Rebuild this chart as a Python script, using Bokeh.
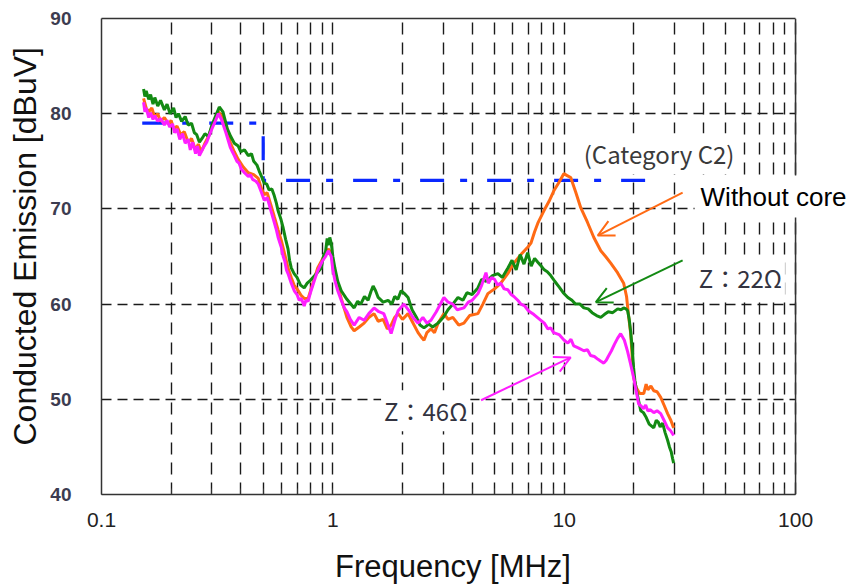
from bokeh.plotting import figure
from bokeh.models import (FixedTicker, CustomJSTickFormatter, Label, Arrow, OpenHead, Span,
                          LogAxis, Title)
from bokeh.embed import file_html
from bokeh.resources import INLINE

# ---------------- data ----------------
freq_nocore = [0.152, 0.156, 0.160, 0.165, 0.170, 0.175, 0.180, 0.187, 0.195, 0.200,
               0.205, 0.212, 0.220, 0.228, 0.237, 0.245, 0.255, 0.262, 0.270, 0.280,
               0.290, 0.300, 0.310, 0.320, 0.335, 0.350, 0.360, 0.375, 0.390, 0.410,
               0.431, 0.455, 0.476, 0.490, 0.505, 0.520, 0.540, 0.558, 0.580, 0.600,
               0.620, 0.640, 0.661, 0.680, 0.700, 0.730, 0.752, 0.782, 0.820, 0.860,
               0.900, 0.955, 0.984, 1.02, 1.087, 1.15, 1.20, 1.236, 1.30, 1.365,
               1.43, 1.507, 1.57, 1.65, 1.72, 1.786, 1.85, 1.915, 2.0, 2.114,
               2.2, 2.335, 2.40, 2.477, 2.55, 2.655, 2.75, 2.85, 3.022, 3.15,
               3.3, 3.5, 3.686, 3.9, 4.237, 4.45, 4.677, 5.0, 5.32, 5.7,
               6.06, 6.5, 6.97, 7.18, 7.45, 7.69, 8.17, 8.6, 9.02, 9.5,
               9.96, 10.3, 10.67, 11.2, 11.8, 12.6, 13.43, 14.39, 15.1, 15.89,
               17.0, 18.07, 18.6, 19.01, 19.38, 19.95, 20.5, 21.2, 22.07, 22.6,
               23.0, 23.7, 24.38, 25.2, 26.13, 27.0, 27.99, 28.9, 29.72]
db_nocore = [81.6, 80.6, 80.2, 80.6, 79.6, 80.0, 79.2, 79.6, 78.9, 79.3,
             78.4, 78.7, 77.8, 78.1, 77.0, 77.4, 76.2, 76.8, 76.0, 76.9,
             77.6, 78.6, 79.4, 80.2, 79.6, 78.3, 77.0, 76.0, 75.2, 74.4,
             73.8, 73.6, 73.2, 72.2, 71.5, 71.7, 70.4, 69.2, 67.8, 66.6,
             65.2, 63.8, 62.8, 62.0, 61.6, 60.9, 60.6, 60.6, 62.2, 63.8,
             64.7, 65.8, 65.4, 63.0, 60.6, 58.6, 57.6, 57.2, 57.6, 58.0,
             58.6, 59.0, 58.2, 58.4, 57.4, 57.8, 58.6, 59.0, 58.4, 59.0,
             58.2, 57.0, 56.6, 56.2, 57.0, 57.4, 57.0, 58.0, 59.0, 58.4,
             58.6, 57.8, 58.0, 58.8, 59.0, 60.0, 61.1, 61.6, 62.2, 63.2,
             64.3, 65.2, 66.0, 66.4, 67.6, 68.5, 69.8, 70.8, 71.9, 72.8,
             73.7, 73.5, 73.3, 71.8, 70.1, 68.6, 67.0, 65.6, 65.0, 64.3,
             63.3, 62.2, 60.8, 58.6, 56.9, 52.3, 51.2, 50.6, 50.6, 51.6,
             51.0, 51.4, 50.9, 50.8, 50.2, 49.4, 48.5, 47.8, 47.0]

freq_z22 = [0.152, 0.154, 0.156, 0.160, 0.163, 0.167, 0.170, 0.175, 0.180, 0.187,
            0.192, 0.198, 0.205, 0.210, 0.215, 0.222, 0.230, 0.237, 0.245, 0.252,
            0.258, 0.265, 0.272, 0.280, 0.290, 0.300, 0.312, 0.323, 0.335, 0.350,
            0.362, 0.375, 0.390, 0.400, 0.415, 0.431, 0.445, 0.455, 0.470, 0.480,
            0.492, 0.505, 0.518, 0.530, 0.545, 0.558, 0.570, 0.580, 0.595, 0.610,
            0.625, 0.640, 0.650, 0.661, 0.680, 0.700, 0.725, 0.752, 0.775, 0.800,
            0.850, 0.891, 0.910, 0.930, 0.945, 0.955, 0.970, 0.984, 1.0, 1.02,
            1.05, 1.087, 1.15, 1.236, 1.28, 1.32, 1.37, 1.42, 1.46, 1.493,
            1.53, 1.57, 1.65, 1.733, 1.80, 1.85, 1.91, 1.972, 2.04, 2.114,
            2.2, 2.3, 2.38, 2.477, 2.6, 2.70, 2.846, 3.0, 3.145, 3.3,
            3.474, 3.65, 3.8, 4.0, 4.237, 4.4, 4.6, 4.9, 5.167, 5.4,
            5.71, 5.95, 6.2, 6.45, 6.70, 6.95, 7.2, 7.45, 7.69, 7.95,
            8.2, 8.45, 8.75, 9.1, 9.5, 9.9, 10.37, 10.8, 11.2, 11.7,
            12.16, 12.7, 13.2, 13.8, 14.39, 14.9, 15.5, 16.2, 17.03, 17.6,
            18.07, 18.5, 18.8, 19.1, 19.4, 19.7, 19.95, 20.2, 20.5, 21.0,
            21.42, 22.0, 22.5, 23.3, 24.38, 25.0, 25.5, 26.0, 26.63, 27.3,
            27.99, 28.5, 29.0, 29.4, 29.72]
db_z22 = [82.6, 81.8, 82.4, 81.5, 82.0, 81.0, 81.7, 80.8, 81.4, 80.4,
          81.0, 80.0, 80.6, 79.6, 80.0, 79.2, 79.7, 78.8, 79.0, 78.0,
          77.8, 77.0, 77.4, 77.9, 77.6, 78.8, 79.8, 80.7, 80.2, 78.4,
          77.6, 76.9, 76.6, 76.0, 76.2, 75.6, 75.8, 75.0, 74.6, 74.0,
          73.4, 72.7, 72.6, 72.0, 72.1, 71.4, 70.6, 69.8, 69.0, 68.0,
          66.8, 65.8, 64.6, 63.8, 63.2, 62.8, 62.0, 61.7, 62.2, 62.5,
          63.2, 63.8, 65.0, 65.5, 66.9, 66.2, 67.0, 66.4, 65.0, 63.8,
          62.4, 61.4, 60.5, 59.6, 60.3, 60.0, 60.8, 60.4, 61.3, 61.9,
          61.4, 60.7, 60.2, 60.4, 60.0, 60.8, 60.5, 61.4, 61.1, 60.7,
          59.4, 58.6, 57.8, 57.5, 57.9, 57.6, 58.0, 58.6, 59.4, 60.0,
          60.7, 60.4, 61.2, 61.0, 61.7, 62.6, 62.4, 63.0, 63.2, 62.8,
          63.8, 64.6, 63.6, 65.2, 64.2, 65.4, 64.0, 64.8, 64.4, 64.0,
          63.6, 63.4, 63.0, 62.4, 61.8, 61.2, 60.7, 60.4, 60.0, 60.0,
          59.6, 59.5, 59.1, 58.8, 58.6, 58.9, 59.2, 59.1, 59.5, 59.4,
          59.6, 59.5, 59.3, 58.4, 57.0, 55.2, 53.3, 52.0, 51.0, 49.8,
          48.8, 48.6, 48.2, 47.4, 47.0, 47.8, 47.6, 47.1, 47.5, 46.5,
          45.7, 45.0, 44.5, 43.8, 43.3]

freq_z46 = [0.152, 0.154, 0.156, 0.160, 0.163, 0.167, 0.170, 0.175, 0.180, 0.187,
            0.192, 0.197, 0.203, 0.207, 0.212, 0.218, 0.224, 0.230, 0.237, 0.242,
            0.248, 0.255, 0.260, 0.265, 0.270, 0.278, 0.285, 0.290, 0.300, 0.310,
            0.320, 0.330, 0.345, 0.360, 0.368, 0.375, 0.385, 0.393, 0.402, 0.415,
            0.431, 0.440, 0.450, 0.465, 0.476, 0.490, 0.505, 0.520, 0.530, 0.540,
            0.558, 0.570, 0.580, 0.598, 0.610, 0.620, 0.630, 0.640, 0.661, 0.681,
            0.700, 0.715, 0.730, 0.752, 0.765, 0.782, 0.800, 0.820, 0.840, 0.860,
            0.880, 0.900, 0.930, 0.955, 0.984, 1.0, 1.02, 1.05, 1.087, 1.12,
            1.15, 1.19, 1.236, 1.30, 1.365, 1.43, 1.507, 1.58, 1.66, 1.72,
            1.786, 1.85, 1.915, 2.03, 2.12, 2.22, 2.335, 2.45, 2.55, 2.655,
            2.8, 3.02, 3.15, 3.3, 3.45, 3.686, 3.85, 4.0, 4.24, 4.40,
            4.59, 4.7, 4.85, 5.0, 5.15, 5.32, 5.5, 5.71, 5.9, 6.06,
            6.3, 6.5, 6.75, 7.0, 7.4, 7.93, 8.2, 8.5, 8.75, 9.0,
            9.5, 10.0, 10.37, 10.7, 11.0, 11.5, 12.16, 12.6, 13.0, 13.5,
            14.0, 14.4, 14.83, 15.2, 15.5, 16.0, 16.5, 17.0, 17.54, 18.2,
            18.8, 19.4, 19.95, 20.5, 20.98, 21.5, 22.0, 22.5, 22.96, 23.6,
            24.4, 25.2, 26.13, 27.0, 28.0, 28.84, 29.72]
db_z46 = [81.2, 80.2, 80.6, 79.6, 80.1, 79.4, 79.8, 79.2, 79.5, 78.8,
          79.3, 78.6, 78.9, 78.0, 78.4, 77.3, 77.9, 76.9, 77.3, 76.2,
          77.0, 75.8, 76.6, 75.6, 76.0, 76.6, 77.0, 77.5, 78.4, 79.2,
          80.0, 79.4, 78.0, 76.5, 76.0, 75.6, 75.0, 74.8, 74.2, 73.8,
          73.4, 73.6, 73.1, 72.9, 72.6, 71.8, 70.9, 71.2, 70.5, 69.8,
          68.6, 67.8, 67.0, 66.0, 65.0, 64.5, 63.6, 63.2, 62.2, 61.4,
          61.0, 60.4, 60.6, 59.8, 60.4, 60.3, 61.2, 62.0, 62.8, 63.5,
          64.0, 64.5, 65.0, 65.6, 65.0, 63.6, 62.5, 61.4, 60.4, 59.6,
          59.2, 58.4, 57.8, 58.6, 58.3, 59.0, 59.6, 59.2, 59.0, 58.0,
          56.9, 58.2, 59.3, 60.0, 59.4, 58.6, 58.0, 58.6, 58.0, 58.3,
          59.2, 60.7, 60.2, 60.0, 59.4, 59.6, 60.2, 60.4, 61.1, 62.0,
          63.3, 62.2, 62.8, 62.6, 62.0, 62.2, 61.6, 61.5, 61.0, 60.8,
          60.4, 60.0, 59.8, 59.3, 58.9, 58.3, 58.0, 57.4, 57.5, 57.0,
          56.8, 56.2, 55.9, 56.3, 55.6, 55.4, 55.1, 55.2, 54.6, 54.5,
          54.2, 54.0, 53.8, 54.1, 54.5, 55.1, 55.8, 56.4, 56.9, 56.2,
          55.0, 53.6, 52.3, 50.8, 49.5, 49.3, 49.0, 49.4, 48.8, 48.9,
          48.6, 48.8, 48.5, 47.8, 47.0, 46.7, 46.2]

limit_freq = [0.15, 0.5, 0.5, 25.5]
limit_db = [79, 79, 73, 73]

x_major = [0.1, 1, 10, 100]
x_minor = [0.2, 0.3, 0.4, 0.5, 0.6, 0.7, 0.8, 0.9,
           2, 3, 4, 5, 6, 7, 8, 9,
           20, 30, 40, 50, 60, 70, 80, 90]
y_major = [40, 50, 60, 70, 80, 90]

# annotation anchors (data coordinates)
label_cat = (11.79, 75.8)
label_nocore = (36.6, 71.3)
label_z22 = (37.0, 62.8)
label_z46 = (1.616, 48.8)
arrow_nocore = (32.5, 71.7, 13.96, 67.2)
arrow_z22 = (32.5, 64.6, 13.7, 60.2)
arrow_z46 = (4.37, 49.9, 10.67, 54.4)

C_ORANGE = "#ff6a14"
C_GREEN = "#138a13"
C_MAGENTA = "#ff1eff"
C_BLUE = "#0a28ff"
C_FRAME = "#333333"

# x range extends past 100 MHz only so that labels may run into the right margin
X_END = 167.7

# ---------------- figure ----------------
p = figure(width=847, height=587, x_axis_type="log", x_range=(0.1, X_END), y_range=(40, 90),
           output_backend="svg", toolbar_location=None,
           min_border_left=100, min_border_right=0, min_border_top=18, min_border_bottom=93)
p.background_fill_color = "white"
p.border_fill_color = "white"
p.outline_line_color = None

xa = p.xaxis[0]
xa.ticker = FixedTicker(ticks=x_major, minor_ticks=x_minor)
xa.formatter = CustomJSTickFormatter(code="return String(tick);")
xa.bounds = (0.1, 100)
xa.axis_line_color = C_FRAME
xa.axis_line_width = 1.5
xa.major_tick_in = 6
xa.major_tick_out = 0
xa.minor_tick_in = 6
xa.minor_tick_out = 0
xa.major_tick_line_color = C_FRAME
xa.minor_tick_line_color = C_FRAME
xa.major_label_text_font = "Liberation Sans"
xa.major_label_text_font_size = "21px"
xa.major_label_text_color = "#222222"
xa.major_label_standoff = 18
# trailing no-break spaces re-centre the title over the 0.1-100 MHz box
xa.axis_label = "Frequency [MHz]" + "\u00a0" * 5
xa.axis_label_text_font = "Liberation Sans"
xa.axis_label_text_font_size = "31px"
xa.axis_label_text_font_style = "normal"
xa.axis_label_text_color = "#111111"
xa.axis_label_standoff = 19

top = LogAxis(bounds=(0.1, 100), axis_line_color=C_FRAME, axis_line_width=1.5,
              major_tick_line_color=None, minor_tick_line_color=None,
              major_label_text_font_size="0px",
              ticker=FixedTicker(ticks=[], minor_ticks=[]))
p.add_layout(top, "above")

ya = p.yaxis[0]
ya.ticker = FixedTicker(ticks=y_major)
ya.axis_line_color = C_FRAME
ya.axis_line_width = 1.5
ya.major_tick_line_color = None
ya.minor_tick_line_color = None
ya.major_label_text_font = "Liberation Sans"
ya.major_label_text_font_size = "19px"
ya.major_label_text_font_style = "bold"
ya.major_label_text_color = "#3c3c50"
ya.major_label_standoff = 24

p.add_layout(Title(text="Conducted Emission [dBuV]", align="left", offset=49, standoff=9,
                   text_font="Liberation Sans", text_font_size="32px",
                   text_font_style="normal", text_color="#111111"), "left")

p.xgrid.grid_line_color = "#1a1a1a"
p.xgrid.grid_line_dash = "12 8"
p.xgrid.grid_line_width = 1.4
p.xgrid.minor_grid_line_color = "#1a1a1a"
p.xgrid.minor_grid_line_dash = "12 8"
p.xgrid.minor_grid_line_width = 1.4
p.ygrid.grid_line_color = "#1a1a1a"
p.ygrid.grid_line_dash = "10 6"
p.ygrid.grid_line_width = 1.4
p.ygrid.cross_bounds = (0.1, 100)

p.add_layout(Span(location=100, dimension="height", line_color=C_FRAME, line_width=1.5))

# ---------------- series ----------------
p.line(limit_freq, limit_db, line_color=C_BLUE, line_width=3.2, line_dash="24 16 7 20")
p.line(freq_nocore, db_nocore, line_color=C_ORANGE, line_width=3)
p.line(freq_z22, db_z22, line_color=C_GREEN, line_width=3)
p.line(freq_z46, db_z46, line_color=C_MAGENTA, line_width=3)

# ---------------- annotations ----------------
for (xs, ys, xe, ye), c in [(arrow_nocore, C_ORANGE), (arrow_z22, C_GREEN), (arrow_z46, C_MAGENTA)]:
    p.add_layout(Arrow(end=OpenHead(size=16, line_color=c, line_width=2),
                       x_start=xs, y_start=ys, x_end=xe, y_end=ye,
                       line_color=c, line_width=2))

def add_label(pos, text, font, size, color, pad):
    p.add_layout(Label(x=pos[0], y=pos[1], text=text, text_font=font, text_font_size=size,
                       text_color=color, text_baseline="middle", text_align="left",
                       background_fill_color="white", padding=pad))

add_label(label_cat, "(Category C2)", "Noto Sans CJK JP", "24px", "#3a3a3a", 3)
add_label(label_nocore, "Without core", "Liberation Sans", "26px", "#000000", 6)
add_label(label_z22, "Z：22Ω", "Noto Sans CJK JP", "24px", "#333340", 3)
add_label(label_z46, "Z：46Ω", "Noto Sans CJK JP", "24px", "#333340", 3)

open("out.html", "w").write(file_html(p, INLINE))
